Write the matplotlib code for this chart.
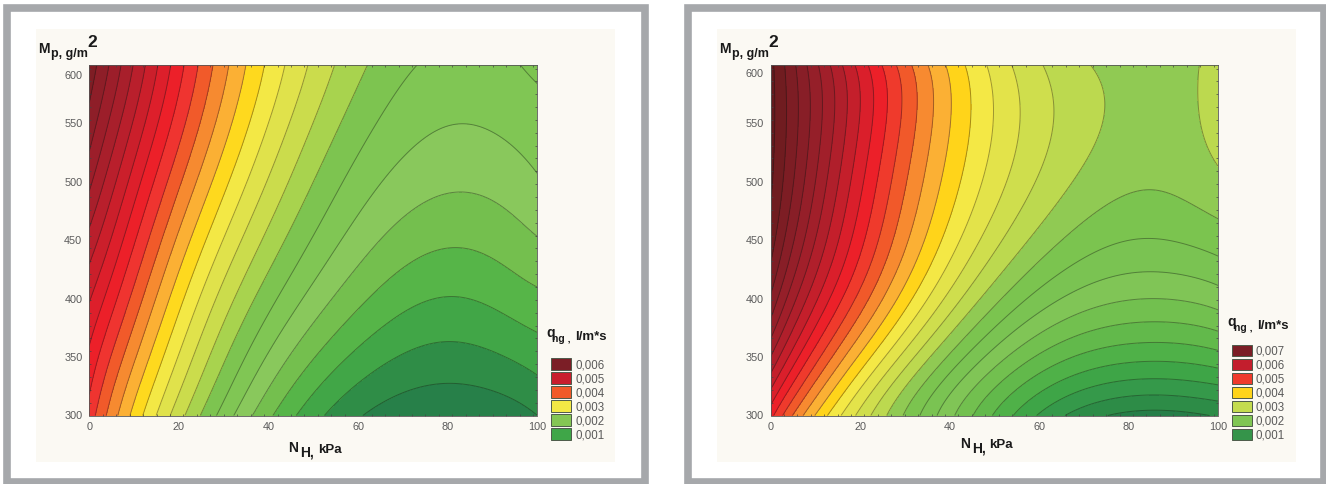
import numpy as np
import matplotlib
matplotlib.use("Agg")
import matplotlib.pyplot as plt
from matplotlib.patches import Rectangle
from matplotlib.transforms import ScaledTranslation

plt.rcParams["font.family"] = ["Liberation Sans", "DejaVu Sans"]

W, H = 1326, 484

# N_H (kPa) and M_p (g/m2) nodes, q_ng in 1e-3 l/m*s
nh = [0, 10, 20, 30, 40, 50, 60, 70, 80, 90, 100]
mp = [600, 550, 500, 450, 400, 350, 300]

q_left = [
    [6.650, 5.725, 4.850, 4.083, 3.443, 2.940, 2.565, 2.325, 2.150, 2.200, 2.300],
    [6.395, 5.465, 4.615, 3.855, 3.250, 2.750, 2.355, 2.120, 2.013, 2.025, 2.150],
    [6.075, 5.123, 4.313, 3.573, 2.985, 2.508, 2.140, 1.898, 1.805, 1.820, 1.970],
    [5.643, 4.785, 3.925, 3.228, 2.655, 2.233, 1.875, 1.630, 1.550, 1.578, 1.738],
    [5.285, 4.420, 3.578, 2.903, 2.358, 1.903, 1.558, 1.325, 1.255, 1.290, 1.438],
    [4.930, 4.048, 3.210, 2.545, 1.965, 1.523, 1.155, 1.000, 0.905, 0.963, 1.110],
    [4.643, 3.673, 2.840, 2.150, 1.558, 1.078, 0.780, 0.600, 0.538, 0.588, 0.750],
]
q_right = [
    [7.450, 6.448, 5.525, 4.738, 4.078, 3.543, 3.153, 2.895, 2.800, 2.810, 2.930],
    [7.463, 6.508, 5.588, 4.800, 4.143, 3.595, 3.225, 2.978, 2.775, 2.795, 2.990],
    [7.425, 6.398, 5.470, 4.680, 4.025, 3.495, 3.088, 2.823, 2.663, 2.675, 2.808],
    [7.250, 6.103, 5.160, 4.403, 3.758, 3.200, 2.793, 2.508, 2.380, 2.380, 2.495],
    [6.840, 5.720, 4.783, 4.020, 3.360, 2.655, 2.280, 2.010, 1.898, 1.875, 1.993],
    [6.125, 4.975, 4.080, 3.225, 2.643, 1.975, 1.585, 1.335, 1.200, 1.188, 1.285],
    [5.213, 4.150, 3.238, 2.638, 1.995, 1.275, 0.875, 0.518, 0.293, 0.300, 0.400],
]

legend_left = ["0,006", "0,005", "0,004", "0,003", "0,002", "0,001"]
legend_right = ["0,007", "0,006", "0,005", "0,004", "0,003", "0,002", "0,001"]
x_ticks = [0, 20, 40, 60, 80, 100]
y_ticks = [300, 350, 400, 450, 500, 550, 600]

# colours, highest band first
bands_left = ["#7f1d24", "#8e1e28", "#9c1e2a", "#a81f2b", "#b91f2c", "#cb1f2b",
              "#dd1f2b", "#ec2029", "#ef3430", "#f15a2a", "#f68a30", "#fbb034", "#fed91e",
              "#f3e845", "#e0e24b", "#cbdc4c", "#a8d34e", "#7dc450", "#80c654", "#89c85c",
              "#74bf4e", "#56b548", "#41a647", "#2f8d47", "#278049"]
bands_right = ["#651a1e", "#701c20", "#7d1d24", "#881e27", "#951f29", "#a11f2a", "#b01f2b",
               "#c41f2b", "#da1f2b", "#ec2029", "#ef3a2c", "#f1592a", "#f78a30", "#fbb034",
               "#ffd41a", "#f4e845", "#e3e34a", "#cfde4d", "#bcd94f", "#90ca53", "#7bc44f",
               "#7ac352", "#80c556", "#72c04f", "#62b94b", "#4fb148", "#3ea547", "#35994a",
               "#2d8c47", "#267e48"]
swatch_left = ["#7b1e26", "#c81e2d", "#f15a29", "#f3e845", "#84c654", "#3fa648"]
swatch_right = ["#7b1e26", "#c31e2d", "#ef3a2c", "#ffd41a", "#c4dc4f", "#80c654", "#35944a"]

fig = plt.figure(figsize=(W / 100, H / 100), dpi=100, facecolor="white")


def box(x0, y0, x1, y1, **kw):
    fig.add_artist(Rectangle((x0 / W, 1 - y1 / H), (x1 - x0) / W, (y1 - y0) / H,
                             transform=fig.transFigure, **kw))


def label(px, py, s, **kw):
    kw.setdefault("weight", "bold")
    kw.setdefault("color", "#1a1a1a")
    fig.text(px / W, 1 - py / H, s, va="baseline", **kw)


def smooth_surface(q, xf, yf):
    # least squares surface through the read values, the hand readings are noisy
    X, Y = np.meshgrid(nh, mp)
    deg = (6, 5)
    A = np.polynomial.polynomial.polyvander2d(X.ravel() / 50 - 1, Y.ravel() / 150 - 3, deg)
    coef = np.linalg.lstsq(A, np.array(q).ravel(), rcond=None)[0]
    B = np.polynomial.polynomial.polyvander2d(xf.ravel() / 50 - 1, yf.ravel() / 150 - 3, deg)
    return (B @ coef).reshape(xf.shape)


def panel(frame, cream, plot, q, levels, bands, swatches, names, sw_x, sw_y, y600_shift):
    box(*frame, facecolor="white", edgecolor="#a6a8ab", linewidth=5.5)
    box(*cream, facecolor="#fbf9f3", edgecolor="none")

    x0, y0, x1, y1 = plot
    ax = fig.add_axes([x0 / W, 1 - y1 / H, (x1 - x0) / W, (y1 - y0) / H], zorder=5)
    xf, yf = np.meshgrid(np.linspace(0, 100, 401), np.linspace(300, 600, 301))
    zf = smooth_surface(q, xf, yf)
    ax.contourf(xf, yf, zf, levels=levels, colors=bands[::-1], extend="both")
    ax.contour(xf, yf, zf, levels=levels, colors="#101010", linewidths=0.7, alpha=0.38)

    ax.set_xlim(0, 100)
    ax.set_ylim(300, 600)
    ax.set_xticks(x_ticks)
    ax.set_xticklabels([str(v) for v in x_ticks])
    ax.set_yticks(y_ticks)
    ax.set_yticklabels([str(v) for v in y_ticks])
    ax.set_xticks(np.arange(0, 100.1, 3), minor=True)
    ax.set_yticks(np.arange(300, 600.1, 11), minor=True)
    ax.tick_params(which="minor", direction="in", length=1.5, width=0.5, color="#444444",
                   top=True, right=True)
    ax.tick_params(which="major", length=0, labelsize=7.8, labelcolor="#5a5a5a", pad=5)
    ax.tick_params(axis="x", which="major", pad=4.5)
    for t in ax.get_yticklabels():
        if t.get_text() == "600":
            t.set_transform(t.get_transform() + ScaledTranslation(0, -y600_shift / 100, fig.dpi_scale_trans))
    for s in ax.spines.values():
        s.set_linewidth(0.6)
        s.set_color("#555555")

    for name, col, yc in zip(names, swatches, sw_y):
        box(sw_x, yc - 5.7, sw_x + 19.5, yc + 5.7, facecolor=col, edgecolor="#4d5a4a", linewidth=0.7)
        fig.text((sw_x + 24) / W, 1 - (yc + 4.2) / H, name, fontsize=8.3, color="#5a5a5a", va="baseline")


panel((6.5, 8, 644.5, 481.5), (36, 29, 615, 462), (89.3, 65, 537.5, 415.5), q_left,
      np.arange(0.75, 6.51, 0.25), bands_left, swatch_left, legend_left,
      551, [364, 378, 392, 406, 420, 434], 10)
panel((687.5, 8, 1324, 481.5), (717, 29, 1296, 462), (770.5, 65, 1218, 415.5), q_right,
      np.arange(0.375, 7.376, 0.25), bands_right, swatch_right, legend_right,
      1232, [350.3, 364.3, 378.3, 392.3, 406.3, 420.3, 434.3], 8)

# axis captions are set piece by piece like in the source figure
for dx in (0, 681):
    label(38.5 + dx, 53, "M", fontsize=10)
    label(51 + dx, 57.5, "p, g/m", fontsize=9)
    label(87 + dx, 47, "2", fontsize=12.5)

label(288, 451.7, "N", fontsize=10)
label(300.5, 456.7, "H,", fontsize=10)
label(318, 452.7, "kPa", fontsize=9.5)
label(960, 447.7, "N", fontsize=10)
label(971.7, 452.7, "H,", fontsize=10)
label(989, 448.3, "kPa", fontsize=9.5)

label(546, 337, "q", fontsize=10)
label(552.5, 342, "ng ,", fontsize=7.5)
label(575, 340, "l/m*s", fontsize=9.5)
label(1227, 326, "q", fontsize=10)
label(1233.5, 331, "ng ,", fontsize=7.5)
label(1257, 329, "l/m*s", fontsize=9.5)

fig.savefig("out.png", dpi=100)
